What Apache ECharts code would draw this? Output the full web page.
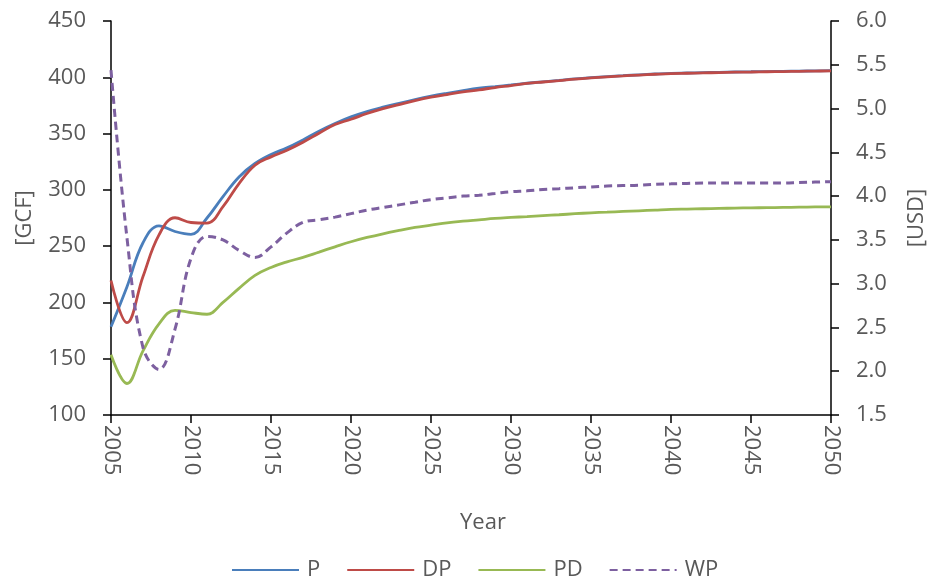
<!DOCTYPE html>
<html>
<head>
<meta charset="utf-8">
<script src="https://cdn.jsdelivr.net/npm/echarts@6/dist/echarts.min.js"></script>
<style>
html,body{margin:0;padding:0;background:#fff;overflow:hidden;}
#c{width:929px;height:580px;}
</style>
</head>
<body>
<div id="c"></div>
<script>
const years = [];
for (let y = 2005; y <= 2050; y++) years.push(y);

const P = [178.4, 214, 253, 268, 263, 260.5, 275, 294, 311.5, 323.4, 331.4,
  337.3, 344.4, 352.1, 358.9, 364.8, 369.5, 373.4, 376.9, 380.2, 383.2,
  385.8, 388.2, 390.3, 391.7, 393.2, 394.7, 396.0, 397.2, 398.6, 399.7,
  400.6, 401.4, 402.2, 402.9, 403.5, 403.8, 404.1, 404.4, 404.7, 404.9,
  405.1, 405.3, 405.5, 405.7, 405.9];
const DP = [219.5, 182, 223, 260, 275.2, 271, 270.5, 285, 305.6, 321.9, 329.3,
  335.2, 342.3, 350.3, 358.0, 362.7, 367.8, 372.2, 375.8, 379.3, 382.3,
  384.7, 387.0, 388.8, 390.9, 392.6, 394.5, 395.8, 397.0, 398.4, 399.5,
  400.4, 401.2, 402.0, 402.7, 403.3, 403.6, 403.9, 404.2, 404.5, 404.7,
  404.9, 405.1, 405.3, 405.5, 405.7];
const PD = [153.5, 128, 157, 181, 193, 191, 189.5, 200, 212.5, 224, 231.1,
  236.1, 240.0, 244.7, 249.4, 253.9, 257.7, 261.0, 263.9, 266.6, 268.6,
  270.7, 272.2, 273.4, 274.6, 275.5, 276.3, 277.1, 277.9, 278.8, 279.6,
  280.2, 280.8, 281.4, 282.0, 282.6, 282.9, 283.2, 283.5, 283.8, 284.0,
  284.2, 284.4, 284.6, 284.8, 284.9];
const WP = [5.44, 3.52, 2.27, 2.02, 2.48, 3.29, 3.54, 3.50, 3.38, 3.30, 3.42,
  3.58, 3.70, 3.73, 3.76, 3.80, 3.84, 3.87, 3.90, 3.93, 3.96,
  3.98, 4.00, 4.01, 4.03, 4.05, 4.06, 4.075, 4.085, 4.095, 4.105,
  4.115, 4.12, 4.125, 4.135, 4.14, 4.145, 4.15, 4.15, 4.15, 4.15,
  4.15, 4.15, 4.155, 4.16, 4.165];

const leftTicks = [100, 450, 50];
const rightTicks = [1.5, 6.0, 0.5];
const xTicks = [2005, 2050, 5];

const FONT = 'Open Sans';
const TXT = '#595959';
const FS = 22;

function pairs(arr) { return years.map((y, i) => [y, arr[i]]); }

const chart = echarts.init(document.getElementById('c'), null, {renderer: 'canvas', width: 929, height: 580});
const axisLine = {show: true, lineStyle: {color: '#000', width: 1.5}};
chart.setOption({
  animation: false,
  backgroundColor: '#fff',
  grid: {left: 111, right: 98, top: 21, bottom: 165, containLabel: false, outerBoundsMode: 'none'},
  xAxis: {
    type: 'value', min: xTicks[0], max: xTicks[1], interval: xTicks[2],
    name: 'Year', nameLocation: 'middle', nameGap: 97,
    nameTextStyle: {fontFamily: FONT, fontSize: FS, color: TXT, padding: [0, 0, 0, 24]},
    axisLine: axisLine,
    axisTick: {show: true, inside: false, length: 8, lineStyle: {color: '#000', width: 1.5}},
    axisLabel: {rotate: -90, margin: 10, fontFamily: FONT, fontSize: FS, color: TXT,
      formatter: v => String(v)},
    splitLine: {show: false}
  },
  yAxis: [{
    type: 'value', position: 'left', min: leftTicks[0], max: leftTicks[1], interval: leftTicks[2],
    name: '[GCF]', nameLocation: 'middle', nameGap: 75, nameRotate: 90,
    nameTextStyle: {fontFamily: FONT, fontSize: FS, color: TXT},
    axisLine: axisLine,
    axisTick: {show: true, inside: false, length: 8, lineStyle: {color: '#000', width: 1.5}},
    axisLabel: {margin: 25, fontFamily: FONT, fontSize: FS, color: TXT},
    splitLine: {show: false}
  }, {
    type: 'value', position: 'right', min: rightTicks[0], max: rightTicks[1], interval: rightTicks[2],
    name: '[USD]', nameLocation: 'middle', nameGap: 75, nameRotate: 90,
    nameTextStyle: {fontFamily: FONT, fontSize: FS, color: TXT},
    axisLine: axisLine,
    axisTick: {show: true, inside: false, length: 8, lineStyle: {color: '#000', width: 1.5}},
    axisLabel: {margin: 25, fontFamily: FONT, fontSize: FS, color: TXT,
      formatter: v => v.toFixed(1)},
    splitLine: {show: false}
  }],
  legend: {
    bottom: -6, left: 226, itemWidth: 67, itemHeight: 14, itemGap: 26,
    itemStyle: {opacity: 0},
    textStyle: {fontFamily: FONT, fontSize: FS, color: TXT, padding: [0, 0, 0, 3]},
    data: ['P', 'DP', 'PD', 'WP']
  },
  series: [
    {name: 'P', type: 'line', data: pairs(P), yAxisIndex: 0, smooth: 0.4, symbol: 'none',
      lineStyle: {color: '#4A7EBB', width: 2.8}, itemStyle: {color: '#4A7EBB'}},
    {name: 'DP', type: 'line', data: pairs(DP), yAxisIndex: 0, smooth: 0.4, symbol: 'none',
      lineStyle: {color: '#BE4B48', width: 2.8}, itemStyle: {color: '#BE4B48'}},
    {name: 'PD', type: 'line', data: pairs(PD), yAxisIndex: 0, smooth: 0.4, symbol: 'none',
      lineStyle: {color: '#98B954', width: 2.8}, itemStyle: {color: '#98B954'}},
    {name: 'WP', type: 'line', data: pairs(WP), yAxisIndex: 1, smooth: 0.4, symbol: 'none',
      lineStyle: {color: '#7D60A0', width: 3, type: [8, 5]}, itemStyle: {color: '#7D60A0'}}
  ]
});
</script>
</body>
</html>
